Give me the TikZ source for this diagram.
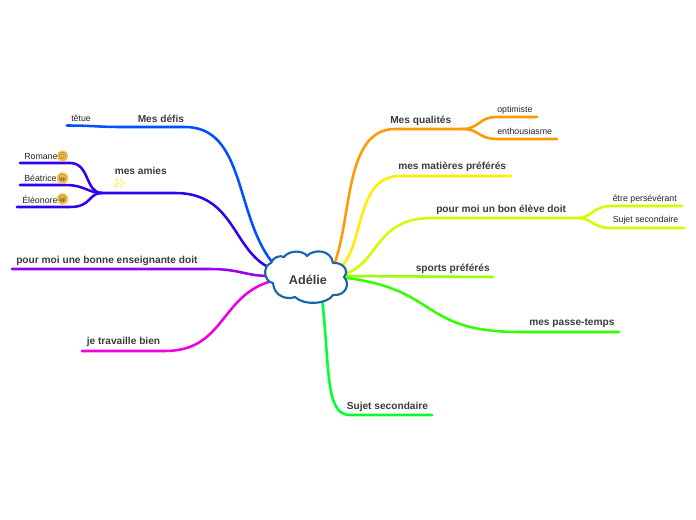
\documentclass[tikz,border=0pt]{standalone}
\usepackage{fontspec}
\setmainfont{Liberation Sans}
\newfontfamily\emojifont{Noto Emoji}
\definecolor{cblue}{HTML}{0050FF}
\definecolor{cindigo}{HTML}{3300EE}
\definecolor{cpurple}{HTML}{9900EE}
\definecolor{cmagenta}{HTML}{F000E0}
\definecolor{corange}{HTML}{FF9900}
\definecolor{cyellow}{HTML}{FFEE00}
\definecolor{clime}{HTML}{CCFF00}
\definecolor{cchart}{HTML}{99FF00}
\definecolor{cgreen}{HTML}{33FF00}
\definecolor{cspring}{HTML}{00FF33}
\definecolor{cloudline}{HTML}{1B66A8}
\definecolor{txt}{HTML}{3C3C3C}
\definecolor{smile}{HTML}{F7C04A}
\tikzset{
  link/.style={line width=1.9pt,line cap=round},
  main/.style={anchor=west,inner sep=0pt,text=txt,font=\fontsize{7.62}{9}\selectfont\bfseries},
  sub/.style={anchor=west,inner sep=0pt,text=black!85,font=\fontsize{6.6}{8}\selectfont},
  face/.style={circle,fill=smile,inner sep=0pt,minimum size=7.2pt,text=black!80,font=\emojifont\fontsize{5.2}{5.2}\selectfont}
}
\begin{document}
\begin{tikzpicture}[x=0.75pt,y=-0.75pt]
\useasboundingbox[fill=white] (0,0) rectangle (696,520);
% anchors
\coordinate (cb) at (272,262);
\coordinate (ci) at (270,268);
\coordinate (cp) at (270,276);
\coordinate (cm) at (272,281);
\coordinate (co) at (335,262);
\coordinate (cy) at (340,268);
\coordinate (cl) at (345,274);
\coordinate (cc) at (347,276);
\coordinate (cg) at (347,278);
\coordinate (cs) at (322,298);
\coordinate (defis) at (185,127);
\coordinate (tetue) at (67,125.5);
\coordinate (amies) at (102,193);
\coordinate (romane) at (20,163);
\coordinate (beatrice) at (20,185);
\coordinate (eleonore) at (17,207);
\coordinate (ens) at (12,269);
\coordinate (bien) at (82,351);
\coordinate (qual) at (462,129);
\coordinate (opt) at (537,117);
\coordinate (ent) at (557,139);
\coordinate (mat) at (511,176);
\coordinate (eleve) at (578,218);
\coordinate (pers) at (682,206);
\coordinate (sec) at (684,228);
\coordinate (sports) at (493,277);
\coordinate (passe) at (619,332);
\coordinate (sujet) at (432,415);
% connectors
\draw[link,cblue] (cb) .. controls (235,215) and (245,127) .. (defis) -- (120,127) .. controls (100,127) and (90,125.5) .. (tetue);
\draw[link,cindigo] (ci) .. controls (232,250) and (235,193) .. (175,193) -- (amies);
\draw[link,cindigo] (amies) .. controls (85,193) and (90,163) .. (70,163) -- (romane);
\draw[link,cindigo] (amies) .. controls (88,193) and (85,185) .. (65,185) -- (beatrice);
\draw[link,cindigo] (amies) .. controls (88,193) and (92,207) .. (70,207) -- (eleonore);
\draw[link,cpurple] (cp) .. controls (245,276) and (240,269) .. (210,269) -- (ens);
\draw[link,cmagenta] (cm) .. controls (220,295) and (225,351) .. (165,351) -- (bien);
\draw[link,corange] (co) .. controls (352,215) and (345,129) .. (395,129) -- (qual);
\draw[link,corange] (qual) .. controls (480,129) and (478,117) .. (497,117) -- (opt);
\draw[link,corange] (qual) .. controls (480,129) and (478,139) .. (497,139) -- (ent);
\draw[link,cyellow] (cy) .. controls (365,245) and (355,176) .. (400,176) -- (mat);
\draw[link,clime] (cl) .. controls (380,262) and (375,218) .. (432,218) -- (eleve);
\draw[link,clime] (eleve) .. controls (592,218) and (592,206) .. (612,206) -- (pers);
\draw[link,clime] (eleve) .. controls (592,218) and (592,228) .. (612,228) -- (sec);
\draw[link,cchart] (cc) -- (sports);
\draw[link,cgreen] (cg) .. controls (440,290) and (420,332) .. (520,332) -- (passe);
\draw[link,cspring] (cs) .. controls (330,370) and (325,415) .. (350,415) -- (sujet);
% cloud
\draw[cloudline,line width=1.6pt,fill=white,line join=round]
 (271,263) .. controls (273,257) and (280,255) .. (284,257)
 .. controls (289,250) and (303,250) .. (307,256)
 .. controls (313,249) and (331,249) .. (333,263)
 .. controls (342,262) and (350,270) .. (344,277)
 .. controls (350,283) and (347,296) .. (333,295)
 .. controls (328,304) and (304,306) .. (295,297)
 .. controls (288,300) and (274,297) .. (273,283)
 .. controls (264,282) and (262,266) .. (271,263) -- cycle;
\node[inner sep=0pt,text=txt,font=\fontsize{9.5}{11}\selectfont\bfseries] (adelie) at (308,280) {Adélie};
% labels
\node[main] (tdefis) at (137.5,118.5) {Mes défis};
\node[sub] (ttetue) at (71,118.5) {têtue};
\node[main] (tamies) at (114.5,171) {mes amies};
\node[sub] (tromane) at (24,156.5) {Romane};
\node[sub] (tbeatrice) at (24,178.5) {Béatrice};
\node[sub] (teleonore) at (22,199.5) {Éléonore};
\node[face] (f1) at (62.5,156) {\symbol{"1F642}};
\node[face] (f2) at (62.5,178) {\symbol{"1F61B}};
\node[face] (f3) at (62.5,199) {\symbol{"1F61C}};
\node[inner sep=0pt,text=yellow!90!orange,font=\emojifont\fontsize{8}{8}\selectfont] (spark) at (120,184) {\symbol{"2728}};
\node[main] (tens) at (16,260.5) {pour moi une bonne enseignante doit};
\node[main] (tbien) at (86.5,341.5) {je travaille bien};
\node[main] (tqual) at (390,120.5) {Mes qualités};
\node[sub] (topt) at (497,110) {optimiste};
\node[sub] (tent) at (497,131.5) {enthousiasme};
\node[main] (tmat) at (398,166.5) {mes matières préférés};
\node[main] (televe) at (436,209.5) {pour moi un bon élève doit};
\node[sub] (tpers) at (612.5,199) {être persévérant};
\node[sub] (tsec) at (612.5,220.5) {Sujet secondaire};
\node[main] (tsports) at (415.5,268.5) {sports préférés};
\node[main] (tpasse) at (529,323.5) {mes passe-temps};
\node[main] (tsujet) at (346.5,406.5) {Sujet secondaire};
\end{tikzpicture}
\end{document}
